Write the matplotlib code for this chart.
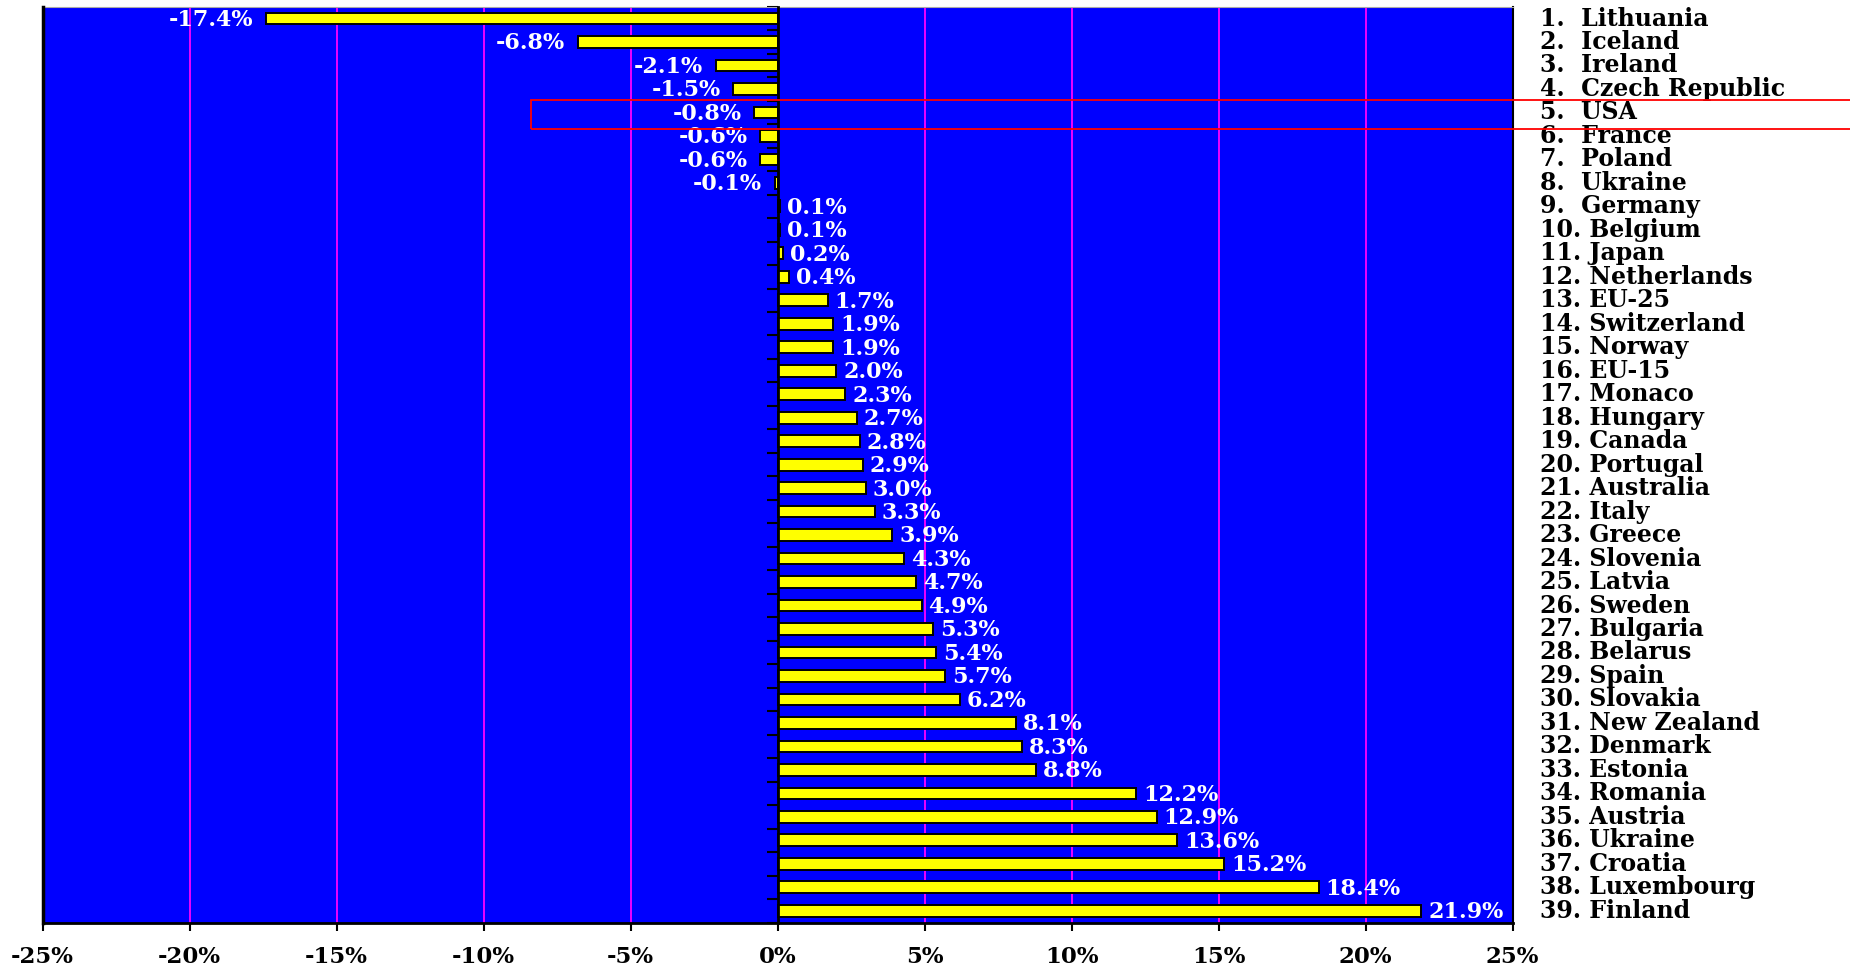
import numpy as np
import matplotlib.pyplot as plt
from matplotlib.patches import Rectangle

# data
countries = ["Lithuania", "Iceland", "Ireland", "Czech Republic", "USA", "France",
             "Poland", "Ukraine", "Germany", "Belgium", "Japan", "Netherlands",
             "EU-25", "Switzerland", "Norway", "EU-15", "Monaco", "Hungary",
             "Canada", "Portugal", "Australia", "Italy", "Greece", "Slovenia",
             "Latvia", "Sweden", "Bulgaria", "Belarus", "Spain", "Slovakia",
             "New Zealand", "Denmark", "Estonia", "Romania", "Austria", "Ukraine",
             "Croatia", "Luxembourg", "Finland"]
values = [-17.4, -6.8, -2.1, -1.5, -0.8, -0.6, -0.6, -0.1, 0.1, 0.1, 0.2, 0.4,
          1.7, 1.9, 1.9, 2.0, 2.3, 2.7, 2.8, 2.9, 3.0, 3.3, 3.9, 4.3, 4.7, 4.9,
          5.3, 5.4, 5.7, 6.2, 8.1, 8.3, 8.8, 12.2, 12.9, 13.6, 15.2, 18.4, 21.9]
xticks = [-25, -20, -15, -10, -5, 0, 5, 10, 15, 20, 25]

FONT = "DejaVu Serif"

fig = plt.figure(figsize=(18.5, 9.66), dpi=100)
ax = fig.add_axes([0.023, 0.045, 0.7946, 0.948])
ax.set_facecolor("#0000FF")

y = np.arange(len(values))
ax.barh(y, values, height=0.5, color="#FFFF00", edgecolor="black", linewidth=1.4, zorder=3)

for g in [-20, -15, -10, -5, 5, 10, 15, 20]:
    ax.axvline(g, color="#FF00FF", lw=1.3, zorder=1)

ax.set_xlim(-25, 25)
ax.set_ylim(len(values) - 0.5, -0.5)

# value labels
for yi, v in zip(y, values):
    if v < 0:
        ax.annotate(f"{v:.1f}%", (v, yi), xytext=(-9, -1), textcoords="offset points",
                    ha="right", va="center", color="white", fontsize=16,
                    fontweight="bold", family=FONT, zorder=4)
    else:
        ax.annotate(f"{v:.1f}%", (v, yi), xytext=(5, -1), textcoords="offset points",
                    ha="left", va="center", color="white", fontsize=16,
                    fontweight="bold", family=FONT, zorder=4)

# country labels on the right
for i, c in enumerate(countries):
    n = i + 1
    sep = "  " if n < 10 else " "
    ax.text(1.019, i, f"{n}.{sep}{c}", transform=ax.get_yaxis_transform(),
            ha="left", va="center", fontsize=17, fontweight="bold",
            family=FONT, color="black", clip_on=False)

# axes styling
ax.spines["left"].set_position(("data", 0))
ax.spines["left"].set_linewidth(2)
ax.spines["left"].set_zorder(5)
ax.spines["bottom"].set_linewidth(2)
ax.spines["right"].set_linewidth(1.5)
ax.spines["top"].set_color("#AAAAAA")
ax.axvline(-25, color="black", lw=2.5, clip_on=False, zorder=5)

ax.set_yticks(np.arange(-0.5, len(values), 1))
ax.set_yticklabels([])
ax.tick_params(axis="y", direction="out", length=8, width=1.5)

ax.set_xticks(xticks)
ax.set_xticklabels([f"{t}%" for t in xticks], fontsize=16.5, fontweight="bold", family=FONT)
ax.tick_params(axis="x", direction="out", length=6, width=1.5, pad=11)

# highlight box around USA
fig.patches.append(Rectangle((531 / 1850, 1 - 129 / 966), 0.75, 29 / 966,
                             transform=fig.transFigure, fill=False,
                             edgecolor="red", lw=1.3, zorder=10))

fig.savefig("out.png", dpi=100)
